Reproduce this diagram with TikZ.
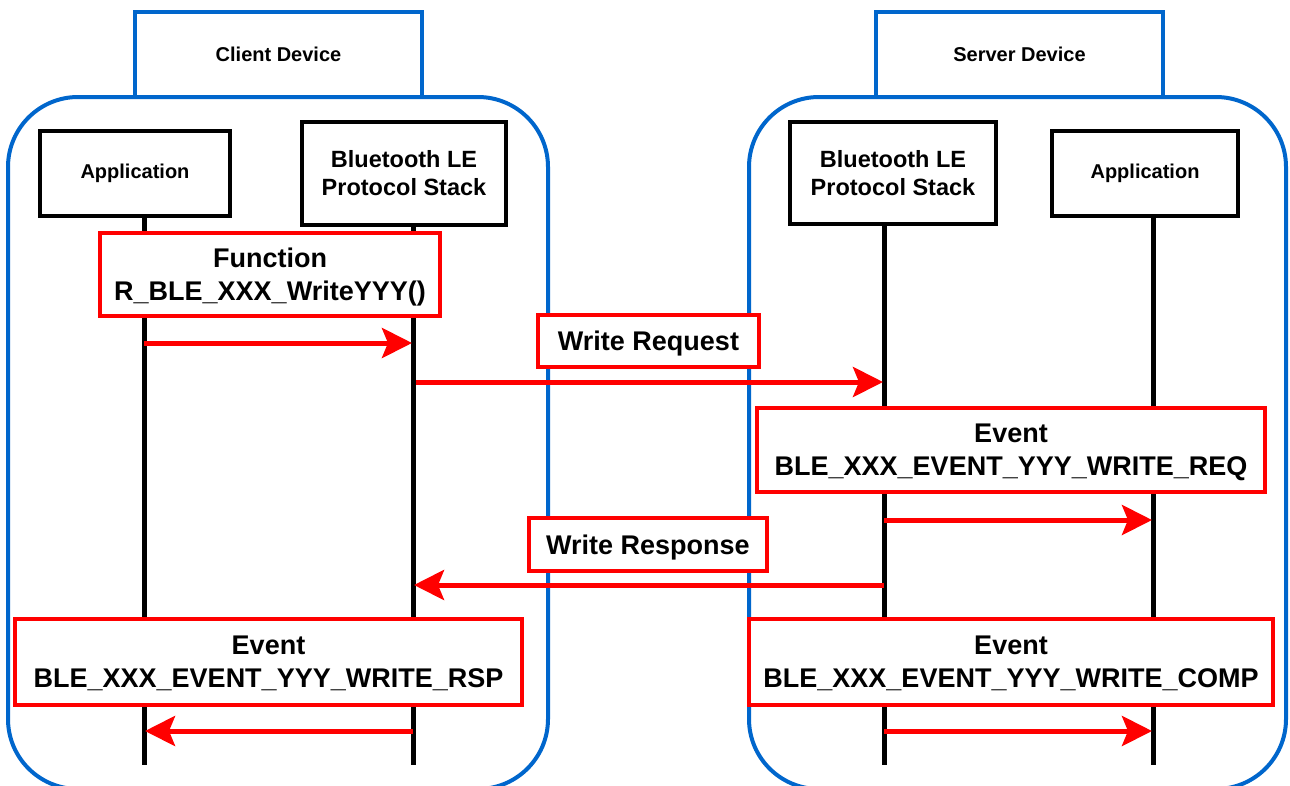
\documentclass[tikz,border=0pt]{standalone}
\usepackage{fontspec}
\setmainfont{Liberation Sans}
\usetikzlibrary{arrows.meta}
\definecolor{cblue}{HTML}{0066CC}
\definecolor{cred}{HTML}{FF0000}
\tikzset{
  container/.style={draw=cblue, line width=4pt, rounded corners=70pt, fill=white},
  tabbox/.style={draw=cblue, line width=4pt, fill=white, inner sep=0pt, align=center,
    font=\fontsize{20}{24}\selectfont\bfseries},
  entity/.style={draw=black, line width=4pt, fill=white, inner sep=0pt, align=center},
  lifeline/.style={draw=black, line width=5pt},
  redbox/.style={draw=cred, line width=4pt, fill=white, inner sep=0pt, align=center,
    text depth=0pt, font=\fontsize{27}{33}\selectfont\bfseries},
  msg/.style={draw=cred, line width=5pt, -{Stealth[length=30pt, width=30pt, inset=6pt]}},
}
\begin{document}
\begin{tikzpicture}[x=1pt, y=-1pt]
\useasboundingbox (0,0) rectangle (1290,785);
\clip (0,0) rectangle (1290,785);
% containers
\draw[container] (8,97) rectangle (548,789);
\draw[container] (749,97) rectangle (1286,789);
\node[tabbox, minimum width=287pt, minimum height=85pt] (ctab) at (278.5,54.5) {Client Device};
\node[tabbox, minimum width=287pt, minimum height=85pt] (stab) at (1019.5,54.5) {Server Device};
% entities
\node[entity, minimum width=190pt, minimum height=85pt, font=\fontsize{20}{24}\selectfont\bfseries] (capp) at (135,173.5) {Application};
\node[entity, minimum width=204pt, minimum height=103pt, font=\fontsize{23.5}{28}\selectfont\bfseries] (cstk) at (404,173.5) {Bluetooth LE\\Protocol Stack};
\node[entity, minimum width=206pt, minimum height=102pt, font=\fontsize{23.5}{28}\selectfont\bfseries] (sstk) at (893,173) {Bluetooth LE\\Protocol Stack};
\node[entity, minimum width=186pt, minimum height=85pt, font=\fontsize{20}{24}\selectfont\bfseries] (sapp) at (1145,173.5) {Application};
% lifeline coordinates
\coordinate (cappT) at (144,216);
\coordinate (cstkT) at (413,225);
\coordinate (sstkT) at (884,224);
\coordinate (sappT) at (1153,216);
\coordinate (cappB) at (144,765);
\coordinate (cstkB) at (413,765);
\coordinate (sstkB) at (884,765);
\coordinate (sappB) at (1153,765);
\draw[lifeline] (cappT) -- (cappB);
\draw[lifeline] (cstkT) -- (cstkB);
\draw[lifeline] (sstkT) -- (sstkB);
\draw[lifeline] (sappT) -- (sappB);
% red boxes
\node[redbox, minimum width=340pt, minimum height=83pt] (fn) at (270,274) {Function\\R\_BLE\_XXX\_WriteYYY()};
\node[redbox, minimum width=221pt, minimum height=52pt] (wreq) at (648.5,341) {Write Request};
\node[redbox, minimum width=508pt, minimum height=84pt] (ereq) at (1011,450) {Event\\BLE\_XXX\_EVENT\_YYY\_WRITE\_REQ};
\node[redbox, minimum width=238pt, minimum height=53pt] (wrsp) at (648,544.5) {Write Response};
\node[redbox, minimum width=507pt, minimum height=86pt] (ersp) at (268.5,662) {Event\\BLE\_XXX\_EVENT\_YYY\_WRITE\_RSP};
\node[redbox, minimum width=524pt, minimum height=86pt] (ecomp) at (1011,662) {Event\\BLE\_XXX\_EVENT\_YYY\_WRITE\_COMP};
% message points
\coordinate (m1a) at (144,343);
\coordinate (m1b) at (412,343);
\coordinate (m2a) at (416,382);
\coordinate (m2b) at (883,382);
\coordinate (m3a) at (884,520);
\coordinate (m3b) at (1152,520);
\coordinate (m4a) at (884,585);
\coordinate (m4b) at (414,585);
\coordinate (m5a) at (413,731);
\coordinate (m5b) at (145,731);
\coordinate (m6a) at (884,731);
\coordinate (m6b) at (1152,731);
\draw[msg] (m1a) -- (m1b);
\draw[msg] (m2a) -- (m2b);
\draw[msg] (m3a) -- (m3b);
\draw[msg] (m4a) -- (m4b);
\draw[msg] (m5a) -- (m5b);
\draw[msg] (m6a) -- (m6b);
\end{tikzpicture}
\end{document}
